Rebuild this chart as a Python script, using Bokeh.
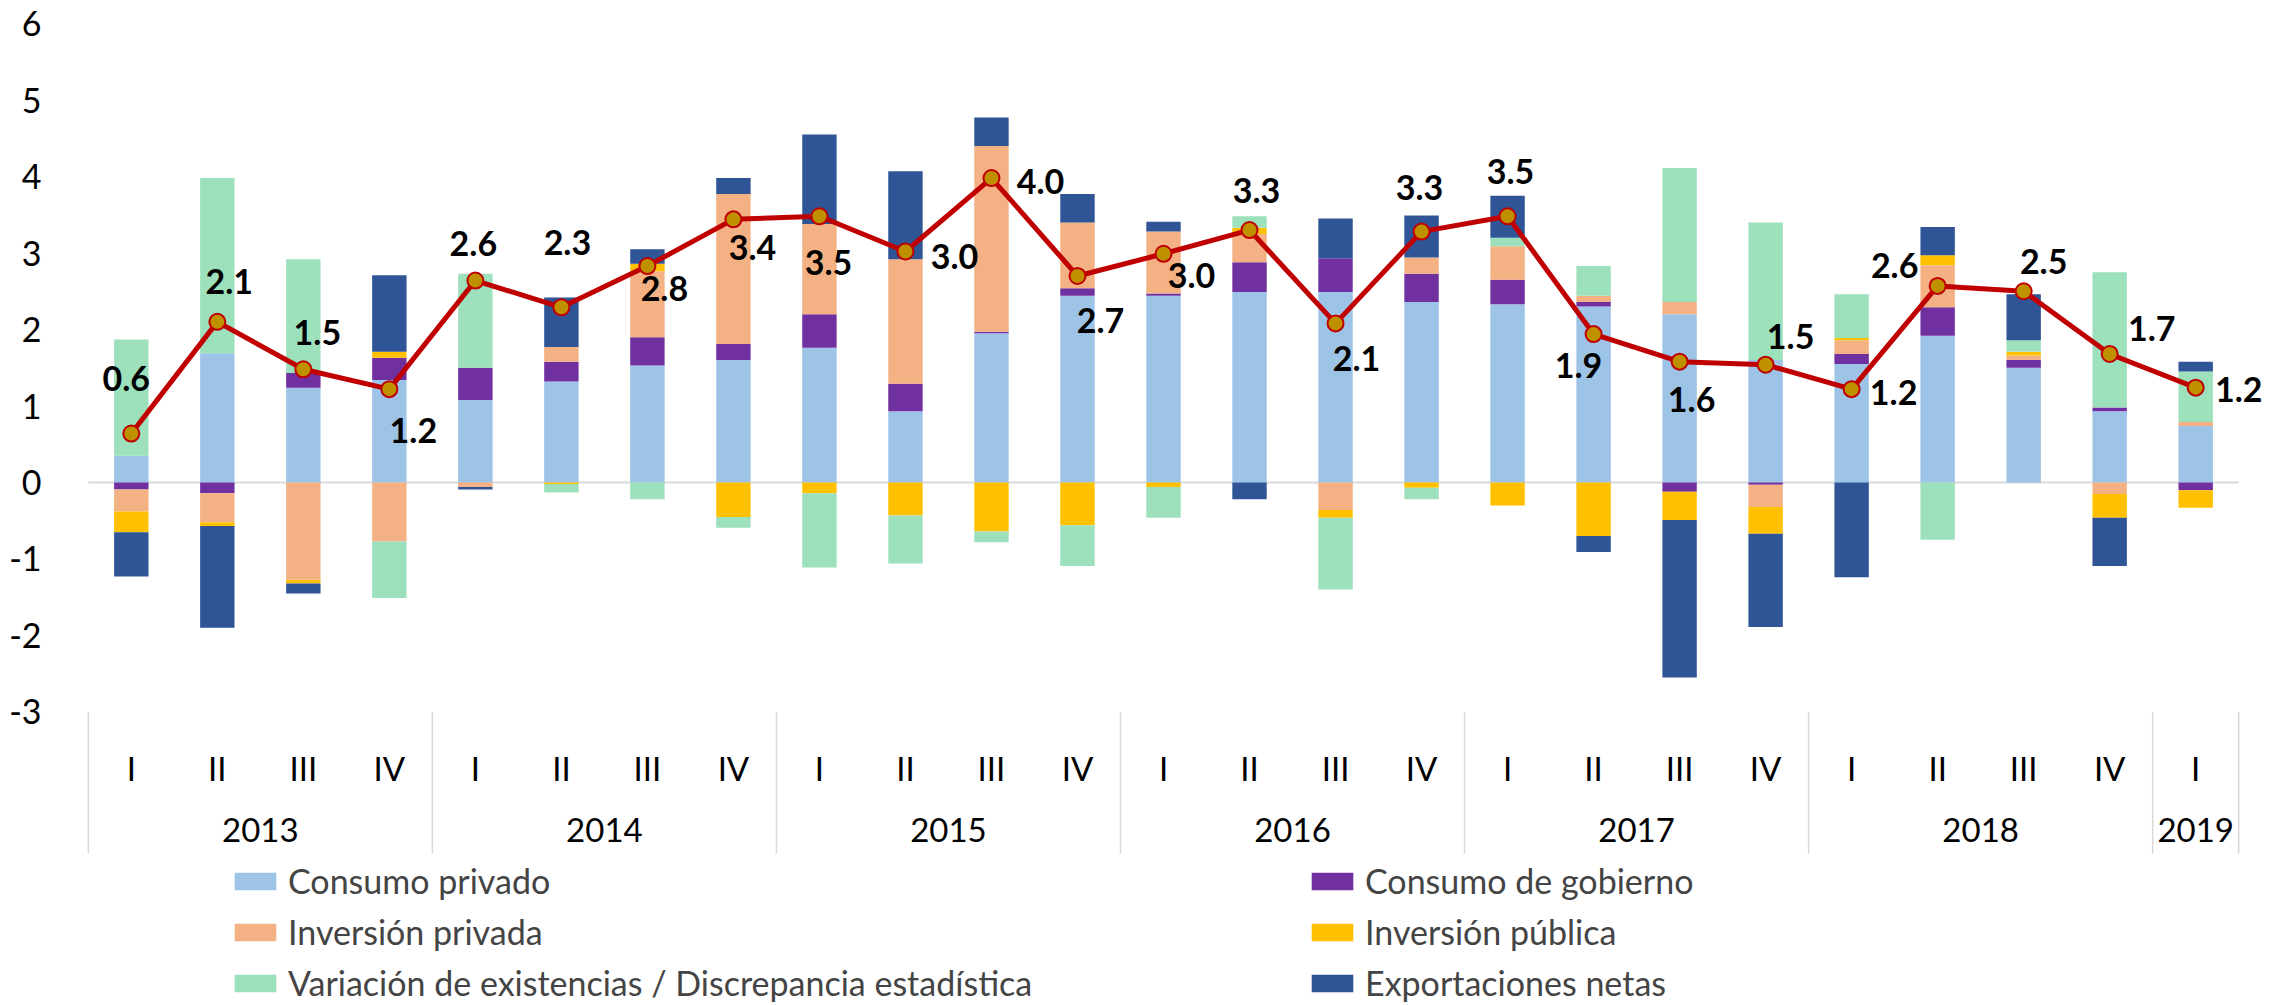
from bokeh.plotting import figure
from bokeh.models import (ColumnDataSource, FactorRange, Range1d, CategoricalAxis,
                          FixedTicker, Legend, LegendItem, Label)
from bokeh.embed import file_html
from bokeh.resources import INLINE

FONT = "Lato"

# ---------------- data ----------------
YEARS = ["2013", "2014", "2015", "2016", "2017", "2018", "2019"]
QUARTERS_PER_YEAR = [4, 4, 4, 4, 4, 4, 1]
QUARTER_LABELS = ["I", "II", "III", "IV"]

consumo_privado = [0.35, 1.69, 1.24, 1.34, 1.08, 1.32, 1.53, 1.60, 1.76, 0.93, 1.95, 2.44, 2.44,
                   2.49, 2.49, 2.36, 2.33, 2.30, 2.20, 1.60, 1.55, 1.92, 1.50, 0.93, 0.74]
consumo_gobierno = [-0.09, -0.14, 0.19, 0.29, 0.42, 0.26, 0.37, 0.21, 0.44, 0.36, 0.02, 0.10, 0.03,
                    0.39, 0.44, 0.37, 0.32, 0.06, -0.12, -0.03, 0.13, 0.37, 0.10, 0.05, -0.10]
inversion_privada = [-0.29, -0.38, -1.27, -0.77, -0.06, 0.19, 0.86, 1.96, 1.18, 1.63, 2.43, 0.86, 0.81,
                     0.37, -0.36, 0.21, 0.44, 0.08, 0.16, -0.29, 0.18, 0.55, 0.06, -0.15, 0.05]
inversion_publica = [-0.27, -0.05, -0.05, 0.08, 0.00, -0.02, 0.10, -0.45, -0.14, -0.43, -0.64, -0.56, -0.06,
                     0.08, -0.10, -0.07, -0.30, -0.70, -0.37, -0.35, 0.03, 0.13, 0.05, -0.31, -0.23]
variacion_existencias = [1.52, 2.29, 1.49, -0.74, 1.23, -0.11, -0.22, -0.14, -0.97, -0.63, -0.14, -0.53, -0.40,
                         0.15, -0.94, -0.15, 0.11, 0.39, 1.75, 1.80, 0.57, -0.75, 0.15, 1.77, 0.66]
exportaciones_netas = [-0.58, -1.33, -0.13, 1.00, -0.03, 0.65, 0.19, 0.21, 1.17, 1.15, 0.37, 0.37, 0.13,
                       -0.22, 0.52, 0.55, 0.55, -0.21, -2.06, -1.22, -1.24, 0.37, 0.60, -0.63, 0.13]
pib = [0.64, 2.10, 1.48, 1.22, 2.64, 2.29, 2.83, 3.44, 3.48, 3.02, 3.98, 2.70, 2.99,
       3.30, 2.08, 3.28, 3.48, 1.94, 1.58, 1.54, 1.22, 2.57, 2.50, 1.68, 1.24]

SERIES_NAMES = ["Consumo privado", "Consumo de gobierno", "Inversión privada",
                "Inversión pública", "Variación de existencias / Discrepancia estadística",
                "Exportaciones netas"]
SERIES = [consumo_privado, consumo_gobierno, inversion_privada,
          inversion_publica, variacion_existencias, exportaciones_netas]

# ---------------- styles ----------------
COLORS = ["#9DC3E6", "#7030A0", "#F4B183", "#FFC000", "#9DE0BC", "#2F5597"]
LINE_COLOR = "#C00000"
MARKER_FILL = "#BF9000"
# label placement offsets (screen px): to the right, and upwards
LABEL_DX = [-5, 12, 14, 24, -2, 6, 17, 19, 9, 49, 49, 23, 28, 7, 21, -2, 3, -15, 12, 25, 42, -43, 20, 42, 43]
LABEL_UP = [55, 40, 37, -41, 37, 65, -22, -28, -46, -5, -3, -45, -22, 40, -35, 44, 45, -31, -38, 28, -3, 20, 30, 25, -2]

Y_TOP, Y_BOTTOM = 6.301, -6.837
AXIS_LOC = -3
SEP_BOTTOM = -4.85
SIDE_PAD = 0.3          # extra room (in category widths) on each side of the categories

# ---------------- build ----------------
factors = []
for yr, n in zip(YEARS, QUARTERS_PER_YEAR):
    for q in QUARTER_LABELS[:n]:
        factors.append((yr, q))

data = {"x": factors, "pib": pib}
pos_cols, neg_cols = [], []
for i, s in enumerate(SERIES):
    data[f"p{i}"] = [max(v, 0.0) for v in s]
    data[f"n{i}"] = [min(v, 0.0) for v in s]
    pos_cols.append(f"p{i}")
    neg_cols.append(f"n{i}")
src = ColumnDataSource(data)

x_range = FactorRange(factors=factors, range_padding=SIDE_PAD, range_padding_units="absolute",
                      factor_padding=0, group_padding=0)

p = figure(width=2293, height=1005, x_range=x_range, y_range=Range1d(Y_BOTTOM, Y_TOP),
           x_axis_location=None, toolbar_location=None, output_backend="svg",
           min_border_left=62, min_border_right=29, min_border_top=0, min_border_bottom=0)
p.outline_line_color = None
p.grid.visible = False
p.background_fill_color = "white"
p.border_fill_color = "white"

first, last = factors[0], factors[-1]
# zero line across the category area
p.segment(x0=[(first[0], first[1], -0.5)], y0=[0], x1=[(last[0], last[1], 0.5)], y1=[0],
          line_color="#D9D9D9", line_width=2, level="underlay")

pos_r = p.vbar_stack(pos_cols, x="x", width=0.4, color=COLORS, line_color=None, source=src)
neg_r = p.vbar_stack(neg_cols, x="x", width=0.4, color=COLORS, line_color=None, source=src)

p.line(x="x", y="pib", source=src, line_color=LINE_COLOR, line_width=5)
p.scatter(x="x", y="pib", source=src, size=16, fill_color=MARKER_FILL,
          line_color=LINE_COLOR, line_width=2)

# data labels: one Label each, at the factor's synthetic centre (index + 0.5)
for i, (v, dx, up) in enumerate(zip(pib, LABEL_DX, LABEL_UP)):
    p.add_layout(Label(x=i + 0.5, y=v, text=f"{v:.1f}", x_offset=dx, y_offset=up,
                       text_align="center", text_baseline="middle", text_font=FONT,
                       text_font_size="34px", text_font_style="bold", text_color="black"))

# year separators on the category axis
sep_x = [(yr, "I", -0.5) for yr in YEARS] + [(last[0], last[1], 0.5)]
p.segment(x0=sep_x, y0=[AXIS_LOC] * len(sep_x), x1=sep_x, y1=[SEP_BOTTOM] * len(sep_x),
          line_color="#D9D9D9", line_width=1.5)

# y axis
yt = list(range(-3, 7))
p.yaxis.ticker = FixedTicker(ticks=yt)
p.yaxis.major_label_overrides = {t: str(t) for t in yt}
p.yaxis.axis_line_color = None
p.yaxis.major_tick_line_color = None
p.yaxis.minor_tick_line_color = None
p.yaxis.major_label_standoff = 15
p.yaxis.major_label_text_font = FONT
p.yaxis.major_label_text_font_size = "34px"
p.yaxis.major_label_text_color = "black"

# category axes: quarters and years
qa = CategoricalAxis(fixed_location=AXIS_LOC, axis_line_color=None, major_tick_line_color=None,
                     minor_tick_line_color=None, major_label_standoff=30,
                     major_label_text_font=FONT, major_label_text_font_size="33px",
                     major_label_text_color="black", group_text_alpha=0,
                     separator_line_color=None)
ya = CategoricalAxis(fixed_location=AXIS_LOC, axis_line_color=None, major_tick_line_color=None,
                     minor_tick_line_color=None, major_label_standoff=100,
                     major_label_text_font=FONT, major_label_text_font_size="33px",
                     major_label_text_alpha=0, group_text_font=FONT,
                     group_text_font_size="33px", group_text_font_style="normal",
                     group_text_color="black", separator_line_color=None)
p.add_layout(qa, "below")
p.add_layout(ya, "below")

# legends (two columns)
def make_legend(idx, x):
    items = [LegendItem(label=SERIES_NAMES[i], renderers=[pos_r[i]]) for i in idx]
    return Legend(items=items, location=(x, 2), orientation="vertical",
                  glyph_width=52, glyph_height=22, label_standoff=7,
                  label_text_font=FONT, label_text_font_size="34px", label_height=40,
                  spacing=10, padding=0, margin=0, border_line_color=None,
                  background_fill_alpha=0)

p.add_layout(make_legend([0, 2, 4], 167), "center")
p.add_layout(make_legend([1, 3, 5], 1244), "center")

open("out.html", "w").write(file_html(p, INLINE))
